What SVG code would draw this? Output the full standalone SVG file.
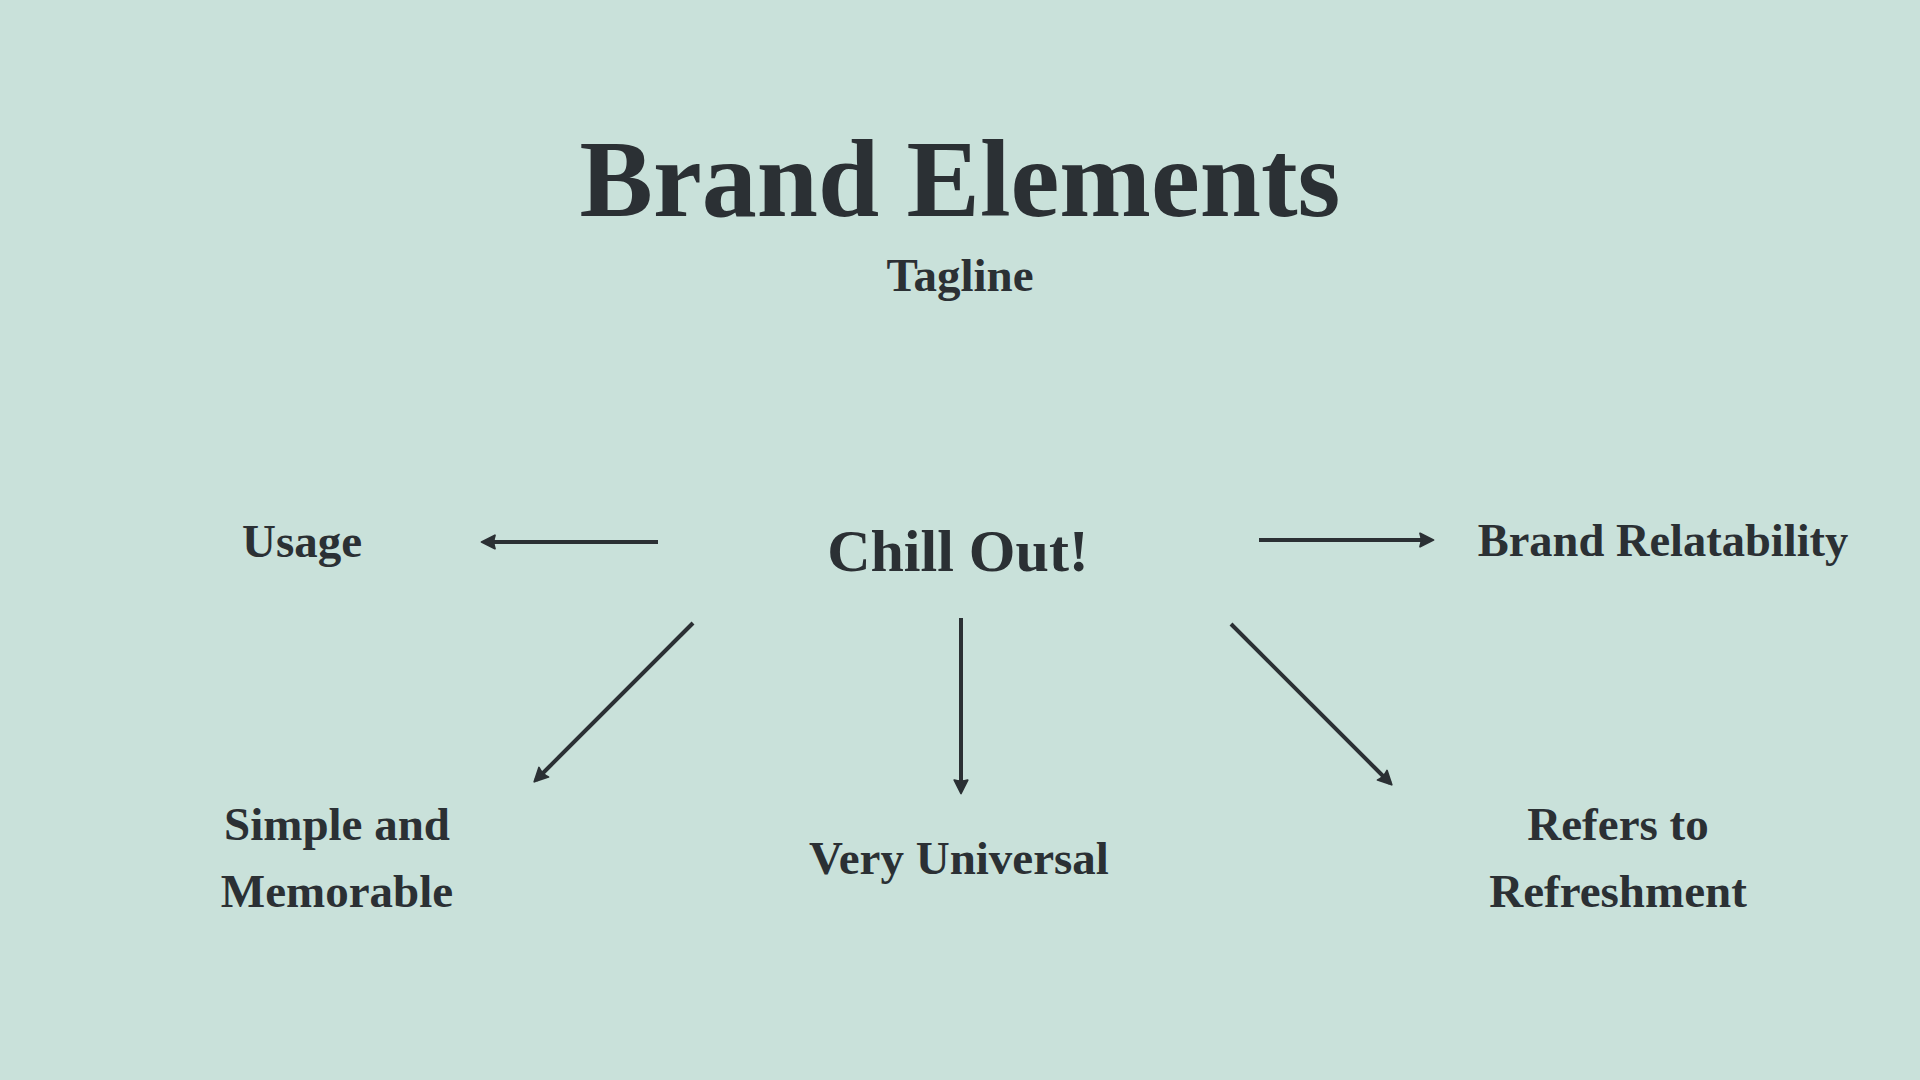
<svg xmlns="http://www.w3.org/2000/svg" width="1920" height="1080" viewBox="0 0 1920 1080">
<defs>
<style>
.t{font-family:"Liberation Serif","Times New Roman",serif;font-weight:bold;fill:#2b3034;text-anchor:middle}
.c{stroke:#2b3034;stroke-width:4;fill:none;marker-end:url(#ah)}
</style>
<marker id="ah" viewBox="0 0 14 14" refX="10" refY="7" markerWidth="17" markerHeight="17" markerUnits="userSpaceOnUse" orient="auto">
<path d="M1,1.5 L12,7 L1,12.5 Q3,7 1,1.5 Z" fill="#2b3034" stroke="#2b3034" stroke-width="1.5" stroke-linejoin="round"/>
</marker>
</defs>
<rect width="1920" height="1080" fill="#c9e1da"/>
<g id="title"><text class="t" x="960" y="216" font-size="110">Brand Elements</text></g>
<g id="tagline"><text class="t" x="960" y="291" font-size="47">Tagline</text></g>
<g id="center"><text class="t" x="958" y="571" font-size="60">Chill Out!</text></g>
<g id="usage"><text class="t" x="302" y="557" font-size="47">Usage</text></g>
<g id="relatability"><text class="t" x="1663" y="556" font-size="46.5">Brand Relatability</text></g>
<g id="simple"><text class="t" x="337" y="840" font-size="47">Simple and</text><text class="t" x="337" y="907" font-size="47">Memorable</text></g>
<g id="universal"><text class="t" x="959" y="874" font-size="47">Very Universal</text></g>
<g id="refers"><text class="t" x="1618" y="840" font-size="47">Refers to</text><text class="t" x="1618" y="907" font-size="47">Refreshment</text></g>
<g id="connectors">
<line class="c" x1="658" y1="542" x2="484" y2="542"/>
<line class="c" x1="1259" y1="540" x2="1431" y2="540"/>
<line class="c" x1="693" y1="623" x2="536" y2="780"/>
<line class="c" x1="961" y1="618" x2="961" y2="791"/>
<line class="c" x1="1231" y1="624" x2="1390" y2="783"/>
</g>
</svg>
